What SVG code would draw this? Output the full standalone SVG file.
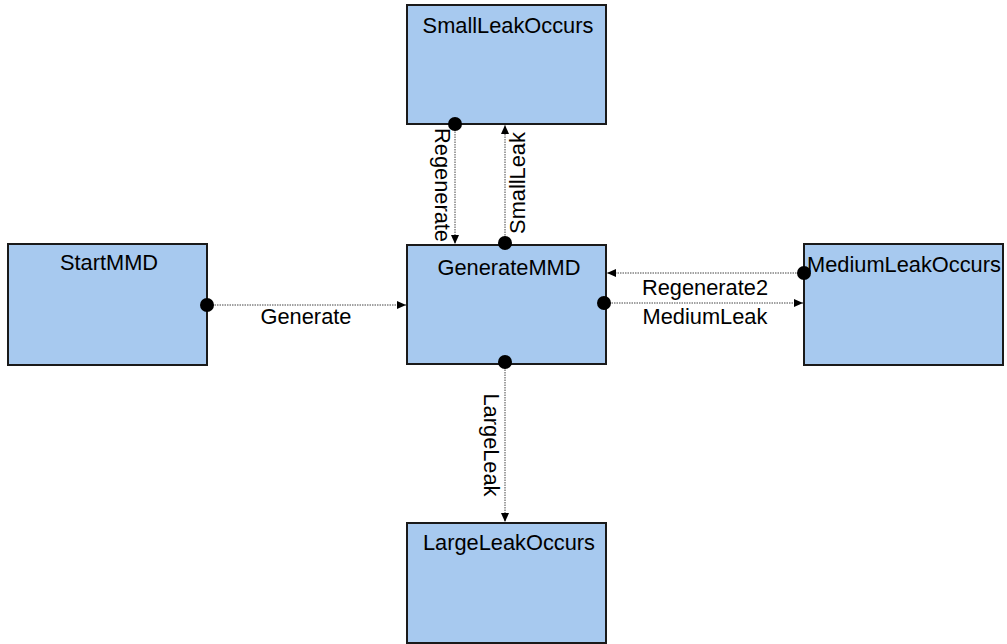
<svg xmlns="http://www.w3.org/2000/svg" width="1007" height="644" viewBox="0 0 1007 644">
<style>
.box{fill:#a7c9ef;stroke:#1a1a1a;stroke-width:2}
.t{font-family:"Liberation Sans",Arial,sans-serif;font-size:21.8px;fill:#000;text-anchor:middle}
.c{stroke:#444;stroke-width:1;stroke-dasharray:1.5,1;fill:none}
.dot{fill:#000}
</style>
<defs>
<marker id="arr" markerWidth="10" markerHeight="10" refX="9" refY="5" orient="auto" markerUnits="userSpaceOnUse">
<path d="M0,1 L9,5 L0,9 Z" fill="#000"/>
</marker>
</defs>
<rect width="1007" height="644" fill="#fff"/>
<g id="SmallLeakOccurs"><rect class="box" x="407" y="5" width="199" height="119"/><text class="t" x="508" y="33">SmallLeakOccurs</text></g>
<g id="StartMMD"><rect class="box" x="8" y="244" width="199" height="121"/><text class="t" x="109" y="270">StartMMD</text></g>
<g id="GenerateMMD"><rect class="box" x="407" y="245" width="199" height="119"/><text class="t" x="509" y="275">GenerateMMD</text></g>
<g id="MediumLeakOccurs"><rect class="box" x="804" y="244" width="199" height="121"/><text class="t" x="904" y="272">MediumLeakOccurs</text></g>
<g id="LargeLeakOccurs"><rect class="box" x="407" y="523" width="199" height="120"/><text class="t" x="509" y="550">LargeLeakOccurs</text></g>
<g id="connectors">
<line class="c" x1="207" y1="305" x2="406" y2="305" marker-end="url(#arr)"/>
<circle class="dot" cx="207" cy="305" r="7"/>
<text class="t" x="306" y="324">Generate</text>
<line class="c" x1="455" y1="124" x2="455" y2="244" marker-end="url(#arr)"/>
<circle class="dot" cx="455" cy="124" r="7"/>
<text class="t" transform="translate(435,185) rotate(90)">Regenerate</text>
<line class="c" x1="505" y1="243" x2="505" y2="125" marker-end="url(#arr)"/>
<circle class="dot" cx="505" cy="243" r="7"/>
<text class="t" transform="translate(525,183) rotate(-90)">SmallLeak</text>
<line class="c" x1="505" y1="362" x2="505" y2="522" marker-end="url(#arr)"/>
<circle class="dot" cx="505" cy="362" r="7"/>
<text class="t" transform="translate(484,445) rotate(90)">LargeLeak</text>
<line class="c" x1="804" y1="273" x2="607" y2="273" marker-end="url(#arr)"/>
<circle class="dot" cx="804" cy="273" r="7"/>
<text class="t" x="705" y="295">Regenerate2</text>
<line class="c" x1="604" y1="303" x2="803" y2="303" marker-end="url(#arr)"/>
<circle class="dot" cx="604" cy="303" r="7"/>
<text class="t" x="705" y="324">MediumLeak</text>
</g>
</svg>
